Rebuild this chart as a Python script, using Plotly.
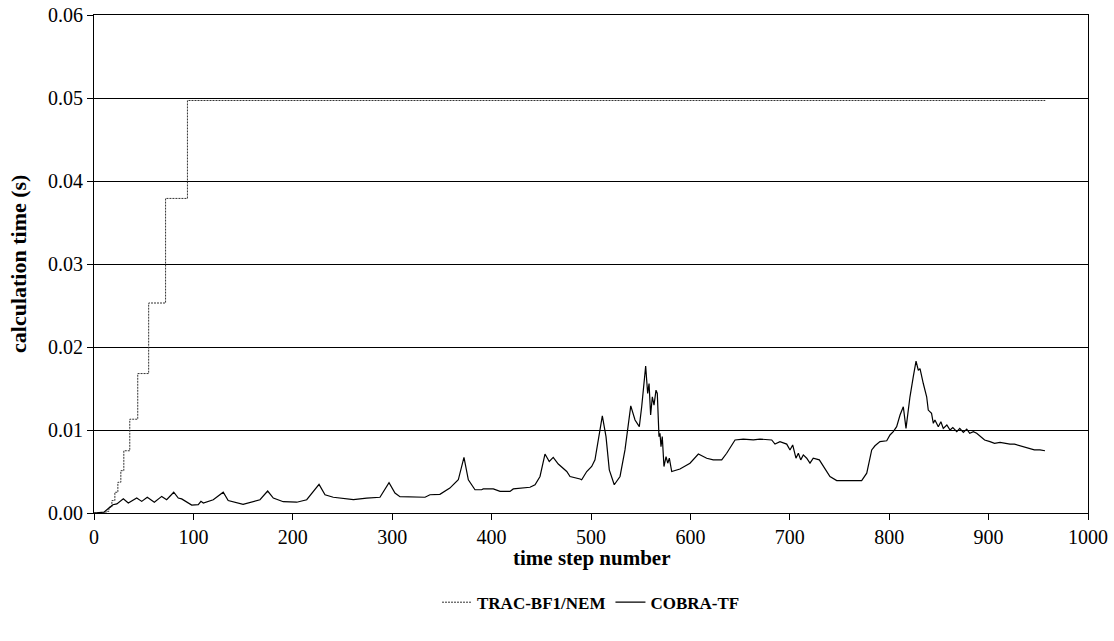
import plotly.graph_objects as go

# TRAC-BF1/NEM calculation time per step (step-wise growth, then constant)
trac_steps = [0, 9, 12, 15, 18, 21, 24, 27, 30, 36, 44, 55, 72, 94, 957]
trac_time = [0.0, 0.0, 0.0002, 0.0007, 0.0015, 0.0025, 0.0037, 0.0051,
             0.0075, 0.0113, 0.0168, 0.0253, 0.0379, 0.0497, 0.0497]

# COBRA-TF calculation time per step
cobra_steps = [
    0, 10, 15, 19, 23, 29.5, 34.5, 43, 48, 53.6, 60.7, 68.1, 73.1, 80.2, 84.8,
    88.2, 98.3, 104.9, 107.6, 110, 120, 130, 135, 150, 167, 174.7, 180.4,
    190.4, 204, 214, 226.4, 232.4, 240.7, 261, 274.3, 287.7, 296.8, 302.8,
    307.8, 333, 338, 348, 358, 366.5, 372.2, 376.6, 383.3, 390, 391.6, 401.7,
    408.5, 418.5, 421.8, 428.6, 438.6, 443.7, 448.7, 453.7, 458, 462, 467.1,
    475.6, 478.9, 489, 490.6, 495.7, 500.7, 504, 507.3, 511.4, 515.1, 518.4,
    523.4, 529.2, 534.2, 540, 544.3, 548.6, 551, 555, 557, 558.4, 560, 561.7,
    563.4, 565.4, 566.7, 568.4, 569.4, 570.4, 571.7, 573.4, 575.5, 577.2,
    578.8, 581.2, 589.5, 599.6, 608, 616.4, 623, 631.5, 636.5, 644.9, 653.2,
    663.3, 670, 676.8, 681.8, 685.1, 690.1, 696.9, 700.2, 702.9, 706.2, 708.6,
    711, 713.6, 717, 720.3, 723.6, 729.7, 733.7, 740.4, 747.2, 772.3, 777.4,
    782.4, 785.7, 790.7, 797.5, 800.8, 804.1, 807.5, 810.9, 814.2, 816.9,
    820.9, 824.2, 827, 829.3, 831, 834.3, 837.7, 839.3, 842.6, 844.4, 846,
    849.4, 852, 854.4, 858, 861.2, 864, 868, 871, 874.6, 878, 881, 884.7,
    888, 891.3, 896, 901.4, 906, 911.5, 916, 921.5, 926, 931.6, 936, 941.6,
    946, 951.7, 956.7,
]
cobra_time = [
    0.0, 0.0001, 0.0006, 0.001, 0.0011, 0.0017, 0.0012, 0.0018, 0.0014,
    0.0019, 0.0013, 0.002, 0.0016, 0.0025, 0.0018, 0.0017, 0.00096, 0.001,
    0.0014, 0.0012, 0.0016, 0.0025, 0.0015, 0.00105, 0.0016, 0.00265, 0.0018,
    0.00136, 0.0013, 0.0016, 0.00345, 0.0022, 0.0019, 0.0016, 0.0018, 0.0019,
    0.00365, 0.0024, 0.00197, 0.0019, 0.0022, 0.00225, 0.003, 0.004, 0.0067,
    0.004, 0.0028, 0.0028, 0.0029, 0.0029, 0.0026, 0.0026, 0.0029, 0.003,
    0.0031, 0.0034, 0.0044, 0.0071, 0.0062, 0.0067, 0.0059, 0.005, 0.0044,
    0.0041, 0.004, 0.005, 0.0056, 0.0064, 0.0088, 0.0117, 0.0092, 0.0052,
    0.0034, 0.0044, 0.0076, 0.0129, 0.0112, 0.0104, 0.0128, 0.0177, 0.0144,
    0.0156, 0.0118, 0.014, 0.013, 0.0148, 0.0144, 0.0092, 0.0096, 0.008,
    0.0092, 0.0056, 0.0068, 0.006, 0.0066, 0.005, 0.0053, 0.006, 0.0071,
    0.0066, 0.0064, 0.0064, 0.0072, 0.0088, 0.0089, 0.0088, 0.0089, 0.0088,
    0.0088, 0.0083, 0.0086, 0.0083, 0.0076, 0.0082, 0.0066, 0.0072, 0.0064,
    0.007, 0.0066, 0.006, 0.0066, 0.0064, 0.0056, 0.0044, 0.0039, 0.0039,
    0.0048, 0.0076, 0.0081, 0.0086, 0.0087, 0.0094, 0.0098, 0.0104, 0.0118,
    0.0128, 0.0102, 0.014, 0.0164, 0.0183, 0.0172, 0.0174, 0.0156, 0.014,
    0.0124, 0.012, 0.0108, 0.0112, 0.0104, 0.011, 0.0102, 0.0106, 0.01,
    0.0103, 0.0098, 0.0102, 0.0097, 0.0101, 0.0096, 0.0098, 0.0096, 0.0093,
    0.0088, 0.0086, 0.0084, 0.0085, 0.0084, 0.0083, 0.0083, 0.0081, 0.008,
    0.0078, 0.0076, 0.0076, 0.0075, 0.0079,
]

x_ticks = [0, 100, 200, 300, 400, 500, 600, 700, 800, 900, 1000]
y_ticks = [0.0, 0.01, 0.02, 0.03, 0.04, 0.05, 0.06]

x_title = "time step number"
y_title = "calculation time (s)"

FONT = "Liberation Serif, Times New Roman, serif"

fig = go.Figure()
fig.add_trace(go.Scatter(
    x=trac_steps, y=trac_time, mode="lines", name="TRAC-BF1/NEM",
    line=dict(color="#333333", width=1, dash="2px,1px", shape="hv"),
))
fig.add_trace(go.Scatter(
    x=cobra_steps, y=cobra_time, mode="lines", name="COBRA-TF",
    line=dict(color="black", width=1.2),
))

# axis titles placed as paper-anchored text
fig.add_annotation(
    text=x_title, xref="paper", yref="paper", x=0.5, y=-0.09,
    xanchor="center", yanchor="middle", showarrow=False,
    font=dict(family=FONT, size=21, color="black", weight="bold"),
)
fig.add_annotation(
    text=y_title, xref="paper", yref="paper", x=-0.0765, y=0.5,
    xanchor="center", yanchor="middle", showarrow=False, textangle=-90,
    font=dict(family=FONT, size=22, color="black", weight="bold"),
)

fig.update_layout(
    width=1114, height=641,
    margin=dict(l=94, r=26, t=15, b=128, autoexpand=False),
    paper_bgcolor="white", plot_bgcolor="white",
    font=dict(family=FONT, size=20, color="black"),
    showlegend=True,
    legend=dict(
        orientation="h", x=0.5, xanchor="center", y=-0.18, yanchor="middle",
        font=dict(family=FONT, size=17, color="black", weight="bold"),
        bgcolor="rgba(0,0,0,0)",
    ),
    xaxis=dict(
        range=[0, 1000], tickvals=x_ticks, ticktext=[str(v) for v in x_ticks],
        ticks="outside", ticklen=6, tickcolor="black", automargin=False,
        showline=True, linecolor="black", linewidth=1, mirror=True,
        showgrid=False, zeroline=False,
    ),
    yaxis=dict(
        range=[0, 0.06], tickvals=y_ticks, tickformat=".2f",
        ticks="outside", ticklen=6, tickcolor="black", automargin=False,
        showline=True, linecolor="black", linewidth=1, mirror=True,
        showgrid=True, gridcolor="black", gridwidth=1, zeroline=False,
    ),
)

fig.write_html("out.html")
